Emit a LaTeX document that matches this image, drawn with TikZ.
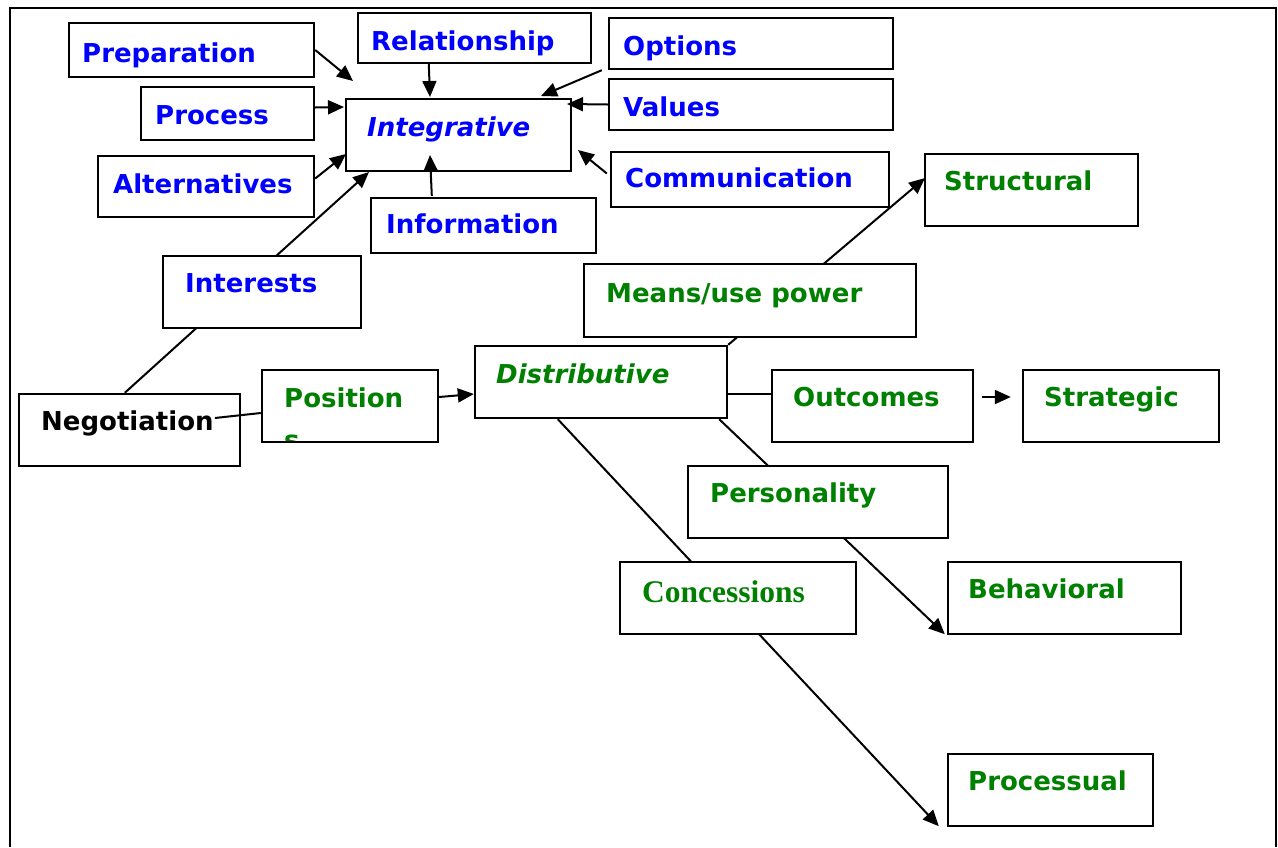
\documentclass[tikz,border=0pt]{standalone}
\usepackage{fontspec}
\setmainfont{DejaVu Sans}
\newfontfamily\tnr{Liberation Serif}
\usetikzlibrary{arrows.meta,fit,backgrounds,calc}
\definecolor{tblue}{RGB}{0,0,255}
\definecolor{tgreen}{RGB}{0,128,0}
\begin{document}
\begin{tikzpicture}[x=1pt,y=-1pt,
  box/.style={draw, line width=2.4pt, fill=white, inner sep=0pt},
  lbl/.style={anchor=base west, inner sep=0pt, font=\fontsize{26}{35}\selectfont\bfseries},
  bl/.style={lbl, text=tblue},
  gr/.style={lbl, text=tgreen},
  conn/.style={line width=2pt},
  arr/.style={conn, -{Triangle[length=16pt,width=14pt]}}]
\useasboundingbox (0,0) rectangle (1278,847);
% boxes
\node[box, fit={(69,23) (314,77)}] (prep) {};
\node[box, fit={(358,13) (591,63)}] (rel) {};
\node[box, fit={(609,18) (893,69)}] (opt) {};
\node[box, fit={(609,79) (893,130)}] (val) {};
\node[box, fit={(141,87) (314,140)}] (proc) {};
\node[box, fill=none, fit={(346,99) (571,171)}] (integ) {};
\node[box, fit={(98,156) (314,217)}] (alt) {};
\node[box, fit={(611,152) (889,207)}] (comm) {};
\node[box, fit={(371,198) (596,253)}] (info) {};
\node[box, fit={(925,154) (1138,226)}] (struct) {};
\node[box, fit={(163,256) (361,328)}] (inter) {};
\node[box, fit={(584,264) (916,337)}] (means) {};
\node[box, fit={(475,346) (727,418)}] (dist) {};
\node[box, fit={(19,394) (240,466)}] (neg) {};
\node[box, fit={(262,370) (438,442)}] (pos) {};
\node[box, fit={(772,370) (973,442)}] (outc) {};
\node[box, fit={(1023,370) (1219,442)}] (strat) {};
\node[box, fit={(688,466) (948,538)}] (pers) {};
\node[box, fit={(620,562) (856,634)}] (conc) {};
\node[box, fit={(948,562) (1181,634)}] (behav) {};
\node[box, fit={(948,754) (1153,826)}] (procs) {};
% texts
\node[bl] (prep-t) at (82,62) {Preparation};
\node[bl] (rel-t) at (371,50) {Relationship};
\node[bl] (opt-t) at (623,55) {Options};
\node[bl] (val-t) at (623,116) {Values};
\node[bl] (proc-t) at (155,124) {Process};
\node[bl, font=\fontsize{26}{35}\selectfont\bfseries\itshape] (integ-t) at (367,136) {Integrative};
\node[bl] (alt-t) at (113,193) {Alternatives};
\node[bl] (comm-t) at (625,187) {Communication};
\node[bl] (info-t) at (386,233) {Information};
\node[gr] (struct-t) at (944,190) {Structural};
\node[bl] (inter-t) at (185,292) {Interests};
\node[gr] (means-t) at (606,302) {Means/use power};
\node[gr, font=\fontsize{26}{35}\selectfont\bfseries\itshape] (dist-t) at (496,383) {Distributive};
\node[lbl] (neg-t) at (41,430) {Negotiation};
\node[gr] (pos-t) at (284,407) {Position};
\begin{scope}
\clip (263,371) rectangle (437,440);
\node[gr] (pos-s) at (284,449) {s};
\end{scope}
\node[gr] (outc-t) at (793,406) {Outcomes};
\node[gr] (strat-t) at (1044,406) {Strategic};
\node[gr] (pers-t) at (710,502) {Personality};
\node[gr, font=\fontsize{31.5}{35}\selectfont\tnr\bfseries] (conc-t) at (642,602) {Concessions};
\node[gr] (behav-t) at (968,598) {Behavioral};
\node[gr] (procs-t) at (968,790) {Processual};
% connector drawn over the boxes
\draw[conn] ($(neg-t.base east)+(1,-12)$) -- ($(pos.west)+(0,7)$);
% connectors behind the boxes
\begin{scope}[on background layer]
\draw[line width=2.4pt] (10,847) -- (10,8) -- (1276,8) -- (1276,847);
\coordinate (tPrep) at (353,81);
\coordinate (tProc) at (344,107);
\coordinate (tAlt) at (346,154);
\coordinate (tRel) at (430,97);
\coordinate (tOpt) at (541,96);
\coordinate (tVal) at (567,104);
\coordinate (tComm) at (578,150);
\coordinate (tInfo) at (430,155);
\coordinate (tNeg) at (369,172);
\coordinate (tStruct) at (925,178);
\draw[arr] (prep.east) -- (tPrep);
\draw[arr] ($(proc.east)+(0,-6)$) -- (tProc);
\draw[arr] ($(alt.east)+(0,-8)$) -- (tAlt);
\draw[arr] ($(rel.south west)+(72,0)$) -- (tRel);
\draw[arr] ($(opt.south west)+(-6,0)$) -- (tOpt);
\draw[arr] (val.west) -- (tVal);
\draw[arr] ($(comm.west)+(-3,-6)$) -- (tComm);
\draw[arr] ($(info.north west)+(62,-1)$) -- (tInfo);
\draw[arr] ($(neg.north west)+(107,0)$) -- (tNeg);
\draw[arr] ($(pos.east)+(0,-9)$) -- ($(dist.west)+(0,12)$);
\draw[arr] (dist.north east) -- (tStruct);
\draw[conn] ($(dist.east)+(0,12)$) -- ($(outc.west)+(0,-12)$);
\draw[arr] ($(outc.east)+(8,-9)$) -- ($(strat.west)+(-11,-9)$);
\draw[arr] ($(dist.south east)+(-9,0)$) -- ($(behav.south west)+(-2,-1)$);
\draw[arr] ($(dist.south west)+(84,0)$) -- ($(procs.south west)+(-8,-1)$);
\end{scope}
\end{tikzpicture}
\end{document}
